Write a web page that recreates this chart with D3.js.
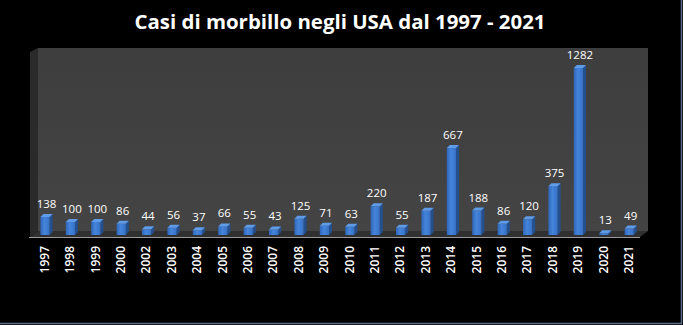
<!DOCTYPE html>
<html><head><meta charset="utf-8">
<script src="https://cdn.jsdelivr.net/npm/d3@7/dist/d3.min.js"></script>
<style>html,body{margin:0;padding:0;background:#000;}svg{display:block;}</style>
</head><body>
<svg id="c" width="683" height="325"></svg>
<script>
const years = ["1997","1998","1999","2000","2002","2003","2004","2005","2006","2007","2008","2009","2010","2011","2012","2013","2014","2015","2016","2017","2018","2019","2020","2021"];
const cases = [138,100,100,86,44,56,37,66,55,43,125,71,63,220,55,187,667,188,86,120,375,1282,13,49];
const title = "Casi di morbillo negli USA dal 1997 - 2021";

const svg = d3.select("#c");
const W = 683, H = 325;
svg.append("rect").attr("width",W).attr("height",H).attr("fill","#000");
svg.append("line").attr("x1",681.5).attr("x2",681.5).attr("y1",0).attr("y2",323).attr("stroke","#5b6b8c").attr("stroke-width",1.5);
svg.append("line").attr("x1",0).attr("x2",682).attr("y1",323.5).attr("y2",323.5).attr("stroke","#5b6b8c").attr("stroke-width",1.5);

const wallL = 38, wallR = 648, wallT = 48, floorBack = 231, floorFront = 237, sideX = 30;
const defs = svg.append("defs");
const wg = defs.append("linearGradient").attr("id","wall").attr("x1",0).attr("y1",0).attr("x2",0).attr("y2",1);
wg.append("stop").attr("offset","0%").attr("stop-color","#3e3e3e");
wg.append("stop").attr("offset","100%").attr("stop-color","#444444");
svg.append("path").attr("d",`M${sideX},${wallT+4}L${wallL},${wallT}L${wallL},${floorBack}L${sideX},${floorFront}Z`).attr("fill","#2a2a2a");
svg.append("rect").attr("x",wallL).attr("y",wallT).attr("width",wallR-wallL).attr("height",floorBack-wallT).attr("fill","url(#wall)");
svg.append("path").attr("d",`M${wallL},${floorBack}L${wallR},${floorBack}L${wallR-8},${floorFront}L${sideX},${floorFront}Z`).attr("fill","#303030");
svg.append("line").attr("x1",sideX-1).attr("x2",wallR-8).attr("y1",floorFront+0.5).attr("y2",floorFront+0.5).attr("stroke","#9a9a9a").attr("stroke-width",1.2);

const x = d3.scaleBand().domain(years).range([33.8, 643.4]).paddingInner(0.52).paddingOuter(0.26);
const y = d3.scaleLinear().domain([0,1300]).range([235, 235-1300*0.1303]);

const bg = defs.append("linearGradient").attr("id","bar").attr("x1",0).attr("y1",0).attr("x2",1).attr("y2",0);
bg.append("stop").attr("offset","0%").attr("stop-color","#2f66b8");
bg.append("stop").attr("offset","45%").attr("stop-color","#4585dc");
bg.append("stop").attr("offset","100%").attr("stop-color","#3670c6");

const dx = 3, dy = 3;
const data = years.map((yr,i)=>({yr, v:cases[i]}));
const g = svg.append("g");
const bars = g.selectAll("g.bar").data(data).join("g").attr("class","bar");
bars.each(function(d){
  const s = d3.select(this);
  const c = x(d.yr) + x.bandwidth()/2;
  const bw = x.bandwidth() - dx;
  const x0 = c - (bw+dx)/2, x1 = x0 + bw;
  const top = y(d.v), base = y(0);
  s.append("path").attr("d",`M${x1},${top}L${x1+dx},${top-dy}L${x1+dx},${base-dy}L${x1},${base}Z`).attr("fill","#24508f");
  s.append("rect").attr("x",x0).attr("y",top).attr("width",bw).attr("height",Math.max(0,base-top)).attr("fill","url(#bar)");
  s.append("path").attr("d",`M${x0},${top}L${x0+dx},${top-dy}L${x1+dx},${top-dy}L${x1},${top}Z`).attr("fill","#5e9be8");
});
g.selectAll("text.val").data(data).join("text").attr("class","val")
  .attr("x",d=>x(d.yr)+x.bandwidth()/2)
  .attr("y",d=>y(d.v)-9)
  .attr("text-anchor","middle")
  .attr("fill","#ffffff")
  .attr("font-family","Open Sans, sans-serif")
  .attr("font-size",11.5)
  .text(d=>d.v);

const ax = svg.append("g").attr("transform","translate(0,246)")
  .call(d3.axisBottom(x).tickSize(0).tickPadding(0));
ax.select(".domain").remove();
ax.selectAll("text")
  .attr("fill","#ffffff")
  .attr("font-family","Open Sans, sans-serif")
  .attr("font-weight",600)
  .attr("font-size",12)
  .attr("text-anchor","end")
  .attr("transform","translate(-2,0) rotate(-90)")
  .attr("x",0).attr("y",0).attr("dy","0.35em");

svg.append("text").attr("x",340).attr("y",29).attr("text-anchor","middle")
  .attr("fill","#ffffff").attr("font-family","Open Sans, sans-serif").attr("font-weight",700)
  .attr("font-size",19.5).attr("textLength",411).attr("lengthAdjust","spacingAndGlyphs").text(title);
</script>
</body></html>
